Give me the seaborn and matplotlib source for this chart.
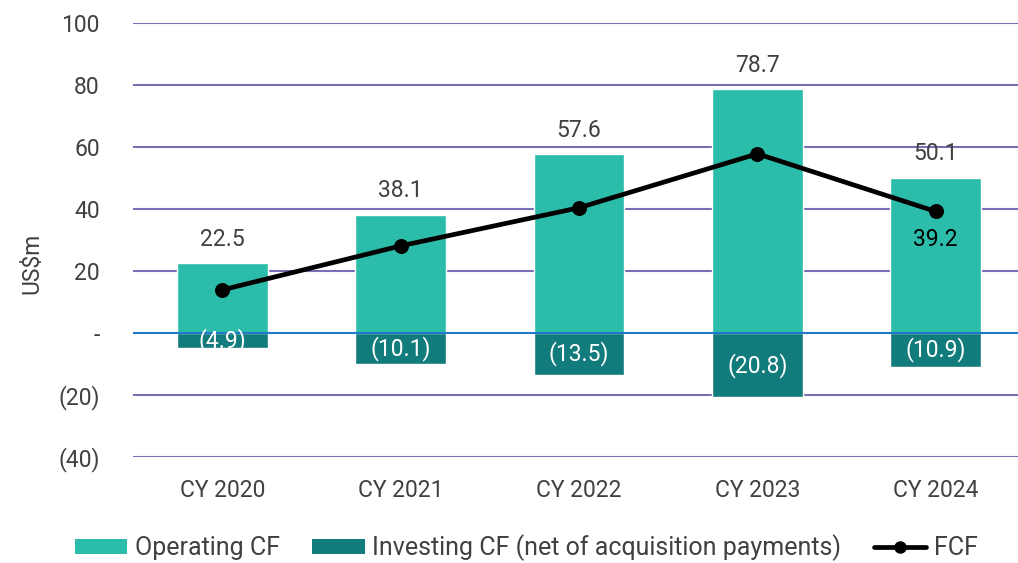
import numpy as np
import pandas as pd
import matplotlib
matplotlib.use("Agg")
import matplotlib.pyplot as plt
import seaborn as sns
from matplotlib.patches import Patch
from matplotlib.lines import Line2D

categories = ["CY 2020", "CY 2021", "CY 2022", "CY 2023", "CY 2024"]
operating_cf = [22.5, 38.1, 57.6, 78.7, 50.1]
investing_cf = [-4.9, -10.1, -13.5, -20.8, -10.9]
fcf = [13.9, 28.1, 40.4, 57.8, 39.2]
ytick_vals = [-40, -20, 0, 20, 40, 60, 80, 100]
ytick_labels = ["(40)", "(20)", "-", "20", "40", "60", "80", "100"]

sns.set_theme(style="white")
plt.rcParams['font.family'] = ['Roboto', 'DejaVu Sans']

c_op = "#2BBDA9"
c_inv = "#127B7B"
c_grid = "#7A6FB5"
c_zero = "#1F78C8"
c_text = "#404040"
fs = 16.5

fig = plt.figure(figsize=(10.18, 5.63), dpi=100)
ax = fig.add_axes([133 / 1018, 1 - 457 / 563, 892 / 1018, 434 / 563])

df = pd.DataFrame({"cat": categories, "op": operating_cf, "inv": investing_cf})
sns.barplot(data=df, x="cat", y="op", color=c_op, width=0.51, ax=ax, saturation=1, zorder=2)
sns.barplot(data=df, x="cat", y="inv", color=c_inv, width=0.51, ax=ax, saturation=1, zorder=2)
sns.lineplot(x=np.arange(len(categories)), y=fcf, color="black", lw=3.4, marker="o",
             markersize=10, markeredgecolor="black", ax=ax, zorder=4)

ax.set_ylim(-40, 100)
ax.set_xlim(-0.5, 4.5)
for v in ytick_vals:
    if v == 0:
        continue
    ax.axhline(v, color=c_grid, lw=1.5, zorder=1)
ax.axhline(0, color=c_zero, lw=1.5, zorder=3)

ax.set_yticks(ytick_vals)
ax.set_yticklabels(ytick_labels)
ax.tick_params(axis="both", length=0, labelsize=fs, labelcolor=c_text)
ax.tick_params(axis="y", pad=24)
ax.tick_params(axis="x", pad=16)
ax.set_xlabel("")
ax.set_ylabel("US$m", fontsize=fs, color=c_text)
ax.yaxis.set_label_coords(-0.100, 0.445)
for s in ax.spines.values():
    s.set_visible(False)

for i, v in enumerate(operating_cf):
    ax.text(i, v + 4, f"{v:.1f}", ha="center", va="bottom", fontsize=fs, color=c_text)
for i, v in enumerate(investing_cf):
    ax.text(i, v / 2, f"({abs(v):.1f})", ha="center", va="center", fontsize=fs, color="white", zorder=5)
ax.text(4, fcf[4] - 9, f"{fcf[4]:.1f}", ha="center", va="center", fontsize=fs, color="black", zorder=5)

handles = [Patch(facecolor=c_op, edgecolor="none"),
           Patch(facecolor=c_inv, edgecolor="none"),
           Line2D([0], [0], color="black", lw=3.4, marker="o", markersize=8)]
labels = ["Operating CF", "Investing CF (net of acquisition payments)", "FCF"]
fig.legend(handles, labels, loc="center", bbox_to_anchor=(0.517, 1 - 548 / 563), ncol=3,
           frameon=False, fontsize=18, handlelength=2.1, handleheight=0.55,
           handletextpad=0.3, columnspacing=1.3, labelcolor=c_text)

fig.savefig("out.png", dpi=100)
